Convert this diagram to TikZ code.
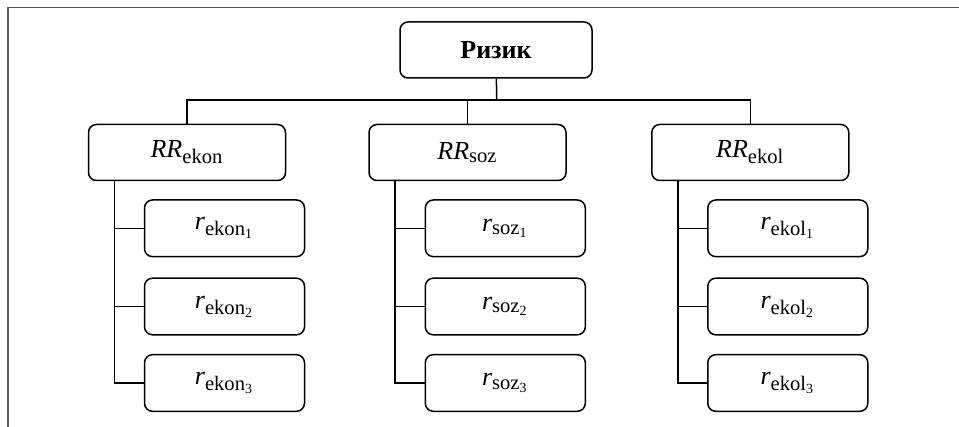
\documentclass[tikz,border=0pt]{standalone}
\usepackage{amsmath}
\usepackage{fontspec}
\setmainfont{Liberation Serif}
\DeclareMathSizes{13}{13}{10.3}{7}
\usetikzlibrary{positioning}
\definecolor{framegray}{RGB}{90,90,90}
\tikzset{
  box/.style={draw, rounded corners=4pt, line width=0.75pt, inner sep=0pt,
              font=\fontsize{13}{15}\selectfont},
  rootbox/.style={box, minimum width=96pt, minimum height=28pt,
                  font=\fontsize{13}{15}\selectfont\bfseries},
  groupbox/.style={box, minimum width=98.5pt, minimum height=28pt},
  itembox/.style={box, minimum width=80pt, minimum height=28.3pt},
  conn/.style={line width=0.75pt},
}
\newcommand{\RRsub}[1]{$\textit{RR}_{\text{#1}}$}
\newcommand{\rsub}[2]{$\textit{r}_{\text{#1}_{\text{#2}}}$}

\begin{document}
\begin{tikzpicture}[x=0.5pt, y=-0.5pt]
  \useasboundingbox (0,0) rectangle (959,427);
  % Frame
  \draw[framegray, line width=0.75pt] (8,427) -- (8,7.5) -- (959,7.5);

  % Root
  \node[rootbox] (risk) at (496,50) {Ризик};

  % Groups
  \node[groupbox] (ekon) at (187,152.5) {\RRsub{ekon}};
  \node[groupbox] (soz) at (467.5,152.5) {\RRsub{soz}};
  \node[groupbox] (ekol) at (750.3,152.5) {\RRsub{ekol}};

  % Items
  \node[itembox] (ekon1) at (224.5,228.3) {\rsub{ekon}{1}};
  \node[itembox] (ekon2) at (224.5,306.5) {\rsub{ekon}{2}};
  \node[itembox] (ekon3) at (224.5,383) {\rsub{ekon}{3}};
  \node[itembox] (soz1) at (505.3,228.3) {\rsub{soz}{1}};
  \node[itembox] (soz2) at (505.3,306.5) {\rsub{soz}{2}};
  \node[itembox] (soz3) at (505.3,383) {\rsub{soz}{3}};
  \node[itembox] (ekol1) at (787.8,228.3) {\rsub{ekol}{1}};
  \node[itembox] (ekol2) at (787.8,306.5) {\rsub{ekol}{2}};
  \node[itembox] (ekol3) at (787.8,383) {\rsub{ekol}{3}};

  % Tree lines
  \coordinate (bus) at (496.7,100);
  \draw[conn] (risk) -- (bus);
  \draw[conn] (bus) -| (ekon);
  \draw[conn] (bus) -| (soz);
  \draw[conn] (bus) -| (ekol);

  \coordinate (ekonspine) at ([xshift=13.35pt]ekon.south west);
  \coordinate (sozspine) at ([xshift=13.35pt]soz.south west);
  \coordinate (ekolspine) at ([xshift=13.35pt]ekol.south west);
  \draw[conn] (ekonspine) |- (ekon3);
  \draw[conn] (ekonspine |- ekon1) -- (ekon1);
  \draw[conn] (ekonspine |- ekon2) -- (ekon2);
  \draw[conn] (sozspine) |- (soz3);
  \draw[conn] (sozspine |- soz1) -- (soz1);
  \draw[conn] (sozspine |- soz2) -- (soz2);
  \draw[conn] (ekolspine) |- (ekol3);
  \draw[conn] (ekolspine |- ekol1) -- (ekol1);
  \draw[conn] (ekolspine |- ekol2) -- (ekol2);
\end{tikzpicture}
\end{document}
